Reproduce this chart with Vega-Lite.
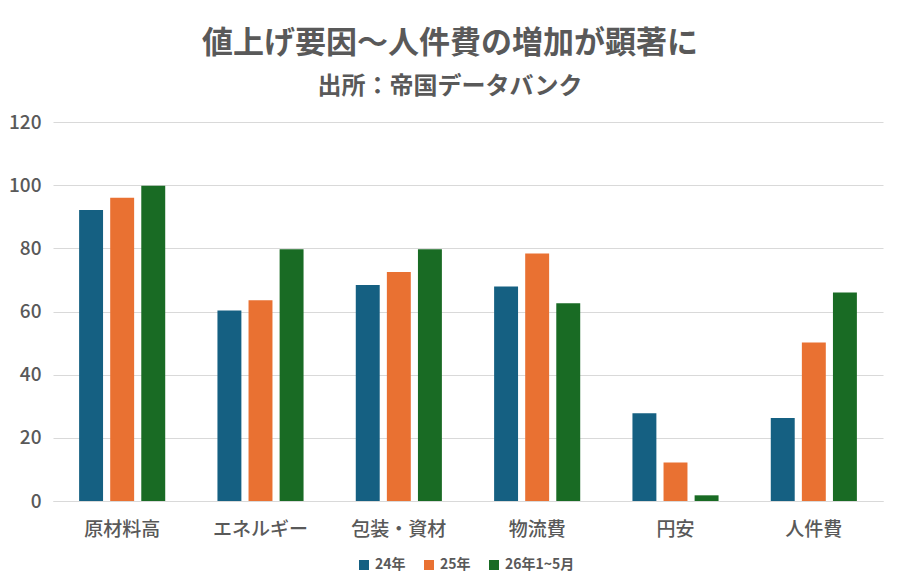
{
  "$schema": "https://vega.github.io/schema/vega-lite/v6.json",
  "autosize": "none",
  "width": 830,
  "height": 379,
  "padding": {"left": 53, "top": 122, "right": 17, "bottom": 86},
  "background": "white",
  "title": {
    "text": "値上げ要因～人件費の増加が顕著に",
    "subtitle": "出所：帝国データバンク",
    "anchor": "middle",
    "dx": -18,
    "offset": 13,
    "font": "Noto Sans CJK JP",
    "fontSize": 31,
    "fontWeight": "bold",
    "color": "#595959",
    "subtitleFont": "Noto Sans CJK JP",
    "subtitleFontSize": 24,
    "subtitleFontWeight": "bold",
    "subtitleColor": "#595959",
    "subtitlePadding": 15
  },
  "data": {
    "values": [
      {"factor": "原材料高", "period": "24年", "value": 92.1},
      {"factor": "原材料高", "period": "25年", "value": 96.0},
      {"factor": "原材料高", "period": "26年1~5月", "value": 99.8},
      {"factor": "エネルギー", "period": "24年", "value": 60.3},
      {"factor": "エネルギー", "period": "25年", "value": 63.6},
      {"factor": "エネルギー", "period": "26年1~5月", "value": 79.7},
      {"factor": "包装・資材", "period": "24年", "value": 68.4},
      {"factor": "包装・資材", "period": "25年", "value": 72.5},
      {"factor": "包装・資材", "period": "26年1~5月", "value": 79.7},
      {"factor": "物流費", "period": "24年", "value": 67.9},
      {"factor": "物流費", "period": "25年", "value": 78.4},
      {"factor": "物流費", "period": "26年1~5月", "value": 62.6},
      {"factor": "円安", "period": "24年", "value": 27.8},
      {"factor": "円安", "period": "25年", "value": 12.2},
      {"factor": "円安", "period": "26年1~5月", "value": 1.8},
      {"factor": "人件費", "period": "24年", "value": 26.3},
      {"factor": "人件費", "period": "25年", "value": 50.2},
      {"factor": "人件費", "period": "26年1~5月", "value": 66.0}
    ]
  },
  "mark": {"type": "bar"},
  "encoding": {
    "x": {
      "field": "factor",
      "type": "nominal",
      "sort": null,
      "title": null,
      "scale": {"paddingInner": 0, "paddingOuter": 0},
      "axis": {
        "labelAngle": 0,
        "labelFont": "Noto Sans CJK JP",
        "labelFontSize": 19,
        "labelFontWeight": 500,
        "labelColor": "#595959",
        "labelPadding": 19,
        "ticks": false,
        "domainColor": "#D9D9D9",
        "grid": false
      }
    },
    "xOffset": {
      "field": "period",
      "type": "nominal",
      "sort": null,
      "scale": {"paddingInner": 0.23, "paddingOuter": 0.84}
    },
    "y": {
      "field": "value",
      "type": "quantitative",
      "title": null,
      "scale": {"domain": [0, 120]},
      "axis": {
        "values": [0, 20, 40, 60, 80, 100, 120],
        "labelFont": "Noto Sans CJK JP",
        "labelFontSize": 19,
        "labelFontWeight": 500,
        "labelColor": "#595959",
        "labelPadding": 12,
        "ticks": false,
        "domain": false,
        "gridColor": "#D9D9D9"
      }
    },
    "color": {
      "field": "period",
      "type": "nominal",
      "sort": null,
      "title": null,
      "scale": {
        "domain": ["24年", "25年", "26年1~5月"],
        "range": ["#156082", "#E97132", "#196B24"]
      },
      "legend": {
        "orient": "none",
        "direction": "horizontal",
        "legendX": 304,
        "legendY": 436,
        "symbolType": "square",
        "symbolSize": 100,
        "symbolStrokeWidth": 0,
        "labelFont": "Noto Sans CJK JP",
        "labelFontSize": 14,
        "labelFontWeight": "bold",
        "labelColor": "#595959",
        "columnPadding": 16
      }
    }
  },
  "config": {
    "view": {"stroke": null}
  }
}
